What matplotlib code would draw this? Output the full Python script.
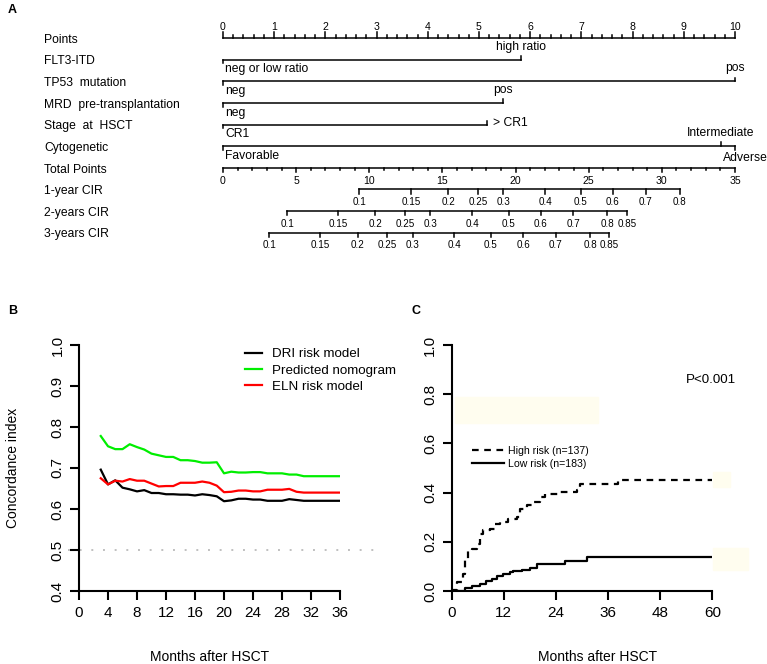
import numpy as np
import matplotlib
matplotlib.use("Agg")
import matplotlib.pyplot as plt
from matplotlib.patches import Rectangle

plt.rcParams['font.family'] = ['Liberation Sans', 'DejaVu Sans']

# ---- panel A : nomogram ----
row_names = ["Points", "FLT3-ITD", "TP53  mutation", "MRD  pre-transplantation",
             "Stage  at  HSCT", "Cytogenetic", "Total Points",
             "1-year CIR", "2-years CIR", "3-years CIR"]

flt3_pts = [0, 5.83]
flt3_lab = ["neg or low ratio", "high ratio"]
tp53_pts = [0, 10]
tp53_lab = ["neg", "pos"]
mrd_pts = [0, 5.46]
mrd_lab = ["neg", "pos"]
stage_pts = [0, 5.16]
stage_lab = ["CR1", "> CR1"]
cyto_pts = [0, 9.72, 10]
cyto_lab = ["Favorable", "Intermediate", "Adverse"]

total_max = 35
cir1_tp = [9.32, 12.86, 15.39, 17.42, 19.16, 22.03, 24.47, 26.66, 28.9, 31.23]
cir1_lab = ["0.1", "0.15", "0.2", "0.25", "0.3", "0.4", "0.5", "0.6", "0.7", "0.8"]
cir2_tp = [4.40, 7.88, 10.41, 12.47, 14.18, 17.05, 19.52, 21.73, 23.95, 26.28, 27.63]
cir2_lab = ["0.1", "0.15", "0.2", "0.25", "0.3", "0.4", "0.5", "0.6", "0.7", "0.8", "0.85"]
cir3_tp = [3.17, 6.64, 9.22, 11.21, 12.97, 15.82, 18.29, 20.53, 22.74, 25.09, 26.42]
cir3_lab = ["0.1", "0.15", "0.2", "0.25", "0.3", "0.4", "0.5", "0.6", "0.7", "0.8", "0.85"]

# ---- panel B : time-dependent C-index ----
months_b = np.arange(3, 37)
dri = [0.696, 0.660, 0.670, 0.652, 0.648, 0.643, 0.646, 0.639, 0.639, 0.636, 0.636,
       0.635, 0.635, 0.633, 0.636, 0.634, 0.631, 0.619, 0.621, 0.625, 0.625, 0.623,
       0.623, 0.620, 0.620, 0.620, 0.624, 0.622, 0.620, 0.620, 0.620, 0.620, 0.620, 0.620]
nomo = [0.778, 0.753, 0.746, 0.746, 0.758, 0.751, 0.745, 0.735, 0.731, 0.727, 0.727,
        0.719, 0.719, 0.717, 0.713, 0.713, 0.714, 0.687, 0.691, 0.689, 0.689, 0.690,
        0.690, 0.687, 0.687, 0.687, 0.684, 0.684, 0.680, 0.680, 0.680, 0.680, 0.680, 0.680]
eln = [0.675, 0.660, 0.669, 0.667, 0.673, 0.669, 0.669, 0.662, 0.655, 0.656, 0.656,
       0.664, 0.664, 0.664, 0.667, 0.664, 0.657, 0.641, 0.642, 0.645, 0.645, 0.643,
       0.643, 0.647, 0.647, 0.647, 0.649, 0.642, 0.640, 0.640, 0.640, 0.640, 0.640, 0.640]

# ---- panel C : cumulative incidence of relapse ----
high_t = [0, 0.4, 1.3, 2.5, 3.1, 3.8, 4.6, 5.8, 6.5, 7.3, 8.8, 10.0, 11.1, 13.0, 15.0,
          15.7, 17.3, 18.8, 20.3, 21.5, 24.9, 28.8, 29.5, 38.4, 60]
high_y = [0, 0.005, 0.037, 0.07, 0.125, 0.165, 0.17, 0.19, 0.233, 0.247, 0.254, 0.271,
          0.281, 0.294, 0.30, 0.335, 0.349, 0.362, 0.383, 0.396, 0.403, 0.41, 0.433, 0.45, 0.45]
low_t = [0, 3.1, 4.6, 6.5, 8.0, 9.2, 10.4, 11.9, 13.4, 14.2, 16.1, 18.0, 19.6, 26.1, 31.1, 60]
low_y = [0, 0.014, 0.02, 0.03, 0.039, 0.05, 0.06, 0.068, 0.077, 0.081, 0.087, 0.094,
         0.111, 0.122, 0.137, 0.137]

W, H = 767, 664
fig = plt.figure(figsize=(W / 100, H / 100), dpi=100)

# nomogram axes: x in points (0 -> px 223, 10 -> px 735), y in rows
ppx = 51.2
row_px = 21.63
ax = fig.add_axes([0, 1 - 260 / H, 1, 260 / H])
ax.set_xlim(-223 / ppx, (W - 223) / ppx)
ax.set_ylim((260 - 38) / row_px, -38 / row_px)
ax.axis("off")
lw = 1.1
fs = 8.7
tk = 0.17  # tick length in rows

for i, name in enumerate(row_names):
    ax.text(-179 / ppx, i + 0.08, name, fontsize=fs, ha="left", va="center")

# Points axis
ax.plot([0, 10], [0, 0], color="black", lw=lw)
for v in np.arange(0, 10.01, 0.2):
    major = abs(v - round(v)) < 1e-6
    ax.plot([v, v], [0, -(0.28 if major else 0.13)], color="black", lw=lw)
    if major:
        ax.text(v, -0.5, str(int(round(v))), fontsize=7.6, ha="center", va="center")


def variable(row, pts, labs, sides):
    ax.plot([pts[0], pts[-1]], [row, row], color="black", lw=lw)
    for p, lab, s in zip(pts, labs, sides):
        if s == 0:
            ax.plot([p, p], [row, row - tk], color="black", lw=lw)
            ax.text(p + 0.11, row - 0.05, lab, fontsize=fs, ha="left", va="center")
        else:
            ax.plot([p, p], [row, row + s * tk], color="black", lw=lw)
            dy = 0.45 if s > 0 else -0.6
            ha = "left" if p == 0 else "center"
            x = p + 0.04 if p == 0 else p
            ax.text(x, row + dy, lab, fontsize=fs, ha=ha, va="center")


variable(1, flt3_pts, flt3_lab, [1, -1])
variable(2, tp53_pts, tp53_lab, [1, -1])
variable(3, mrd_pts, mrd_lab, [1, -1])
variable(4, stage_pts, stage_lab, [1, 0])
variable(5, cyto_pts, [cyto_lab[0], cyto_lab[1], ""], [1, -1, 1])
ax.text(10.2, 5 + 0.55, cyto_lab[2], fontsize=fs, ha="center", va="center")

# Total points axis
scale = 10 / total_max
ax.plot([0, 10], [6, 6], color="black", lw=lw)
for v in range(0, total_max + 1):
    ax.plot([v * scale] * 2, [6, 6 + (0.2 if v % 5 == 0 else 0.12)], color="black", lw=lw)
    if v % 5 == 0:
        ax.text(v * scale, 6.6, str(v), fontsize=7.6, ha="center", va="center")

for row, tps, labs in [(7, cir1_tp, cir1_lab), (8, cir2_tp, cir2_lab), (9, cir3_tp, cir3_lab)]:
    xs = np.array(tps) * scale
    ax.plot([xs[0], xs[-1]], [row, row], color="black", lw=lw)
    for x, lab in zip(xs, labs):
        ax.plot([x, x], [row, row + 0.2], color="black", lw=lw)
        ax.text(x, row + 0.58, lab, fontsize=7.1, ha="center", va="center")

fig.text(8 / W, 1 - 10 / H, "A", fontsize=9, fontweight="bold", ha="left", va="center")
fig.text(8 / W, 1 - 311 / H, "B", fontsize=9, fontweight="bold", ha="left", va="center")
fig.text(412 / W, 1 - 311 / H, "C", fontsize=9, fontweight="bold", ha="left", va="center")

# ---- panel B ----
axb = fig.add_axes([79 / W, 1 - 591 / H, (340 - 79) / W, (591 - 345) / H])
axb.set_xlim(0, 36)
axb.set_ylim(0.4, 1.0)
axb.plot(months_b, dri, color="black", lw=1.6, label="DRI risk model")
axb.plot(months_b, nomo, color="#00ee00", lw=1.6, label="Predicted nomogram")
axb.plot(months_b, eln, color="#ff0000", lw=1.6, label="ELN risk model")
axb.plot([-1.5, 41.5], [0.5, 0.5], color="#c0c0c0", lw=1.4, ls=(0, (1, 5)), clip_on=False)
axb.set_xticks(np.arange(0, 37, 4))
axb.set_yticks(np.arange(0.4, 1.01, 0.1))
axb.set_yticklabels([f"{v:.1f}" for v in np.arange(0.4, 1.01, 0.1)], rotation=90, va="center")
axb.set_ylabel("Concordance index", fontsize=10, va="center")
axb.yaxis.set_label_coords((13 - 79) / 261, 0.5)
axb.set_xlabel("Months after HSCT", fontsize=10, va="center")
axb.xaxis.set_label_coords(0.5, (591 - 657) / 246)
axb.legend(loc="upper left", bbox_to_anchor=(245 / W, 1 - 348 / H),
           bbox_transform=fig.transFigure, frameon=False, fontsize=9.6,
           handlelength=1.3, handletextpad=0.7, labelspacing=0.3, borderpad=0, borderaxespad=0)

# ---- panel C ----
axc = fig.add_axes([451.7 / W, 1 - 591 / H, (712.3 - 451.7) / W, (591 - 345) / H])
axc.set_xlim(0, 60)
axc.set_ylim(0, 1.0)
fig.patches.append(Rectangle((455 / W, 1 - 423 / H), 143 / W, 26 / H,
                             transform=fig.transFigure, color="#fffdef", zorder=0))
fig.patches.append(Rectangle((713 / W, 1 - 570 / H), 35 / W, 22 / H,
                             transform=fig.transFigure, color="#fffdef", zorder=0))
fig.patches.append(Rectangle((713 / W, 1 - 487 / H), 17 / W, 15 / H,
                             transform=fig.transFigure, color="#fffdef", zorder=0))
axc.step(high_t, high_y, where="post", color="black", lw=1.6, ls=(0, (3, 2.5)),
         label="High risk (n=137)")
axc.step(low_t, low_y, where="post", color="black", lw=1.6, label="Low risk (n=183)")
axc.set_xticks(np.arange(0, 61, 12))
axc.set_yticks(np.arange(0, 1.01, 0.2))
axc.set_yticklabels([f"{v:.1f}" for v in np.arange(0, 1.01, 0.2)], rotation=90, va="center")
axc.set_xlabel("Months after HSCT", fontsize=10, va="center")
axc.xaxis.set_label_coords(0.56, (591 - 657) / 246)
axc.text((736 - 451.7) / 260.6, (591 - 380) / 246, "P<0.001", fontsize=9.6,
         ha="right", va="center", transform=axc.transAxes)
axc.legend(loc="upper left", bbox_to_anchor=(472 / W, 1 - 446 / H),
           bbox_transform=fig.transFigure, frameon=False, fontsize=7.6,
           handlelength=3.0, handletextpad=0.4, labelspacing=0.25, borderpad=0, borderaxespad=0)

for a in (axb, axc):
    a.spines["top"].set_visible(False)
    a.spines["right"].set_visible(False)
    a.spines["left"].set_linewidth(1.5)
    a.spines["bottom"].set_linewidth(1.5)
    a.tick_params(width=1.5, length=6.5, labelsize=11, pad=4)
    a.set_facecolor("none")

fig.savefig("out.png", dpi=100)
